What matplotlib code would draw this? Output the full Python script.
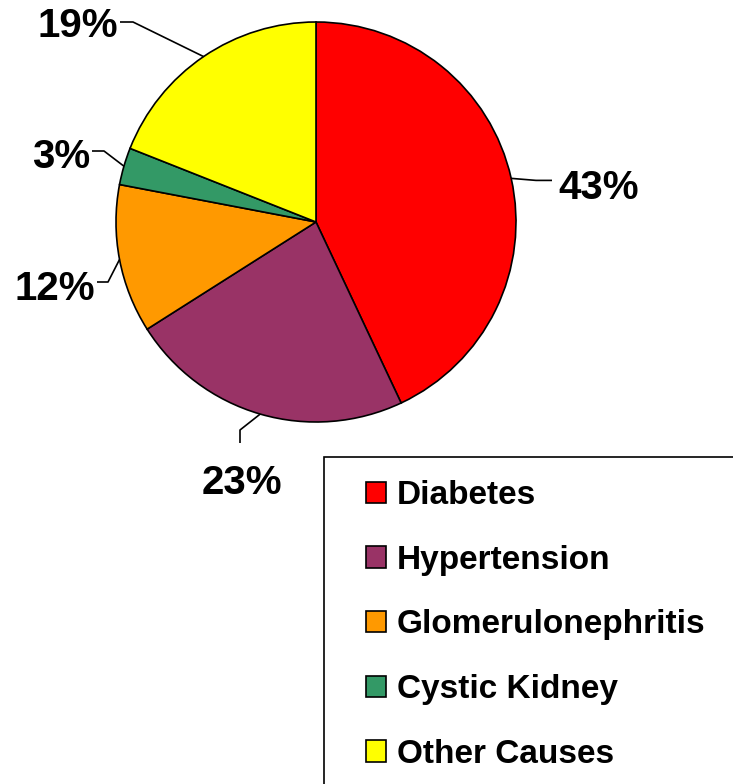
import matplotlib
matplotlib.use("Agg")
import matplotlib.pyplot as plt
from matplotlib.patches import Rectangle
import numpy as np

categories = ["Diabetes", "Hypertension", "Glomerulonephritis", "Cystic Kidney", "Other Causes"]
values = [43, 23, 12, 3, 19]
colors = ["#FF0000", "#993366", "#FF9900", "#339966", "#FFFF00"]

plt.rcParams['font.family'] = ['Liberation Sans', 'DejaVu Sans']
plt.rcParams['font.weight'] = 'bold'

W, H = 733, 784
fig = plt.figure(figsize=(W / 100, H / 100), dpi=100)
cx, cy, R = 316, 222, 200
ax = fig.add_axes([(cx - R) / W, (H - cy - R) / H, 2 * R / W, 2 * R / H])

wedges, _ = ax.pie(values, colors=colors, startangle=90, counterclock=False,
                   radius=1, frame=True,
                   wedgeprops=dict(edgecolor='black', linewidth=1.2))
ax.set_xlim(-1, 1)
ax.set_ylim(-1, 1)
ax.axis('off')

# label layout: (elbow point, end point, text position, ha, va)
layout = [
    ((1.10, 0.208), (1.18, 0.208), (1.21, 0.17), 'left', 'center'),
    ((-0.38, -1.04), (-0.38, -1.105), (-0.37, -1.305), 'center', 'center'),
    ((-1.04, -0.30), (-1.095, -0.30), (-1.105, -0.335), 'right', 'center'),
    ((-1.06, 0.355), (-1.12, 0.355), (-1.13, 0.325), 'right', 'center'),
    ((-0.915, 1.0), (-0.98, 1.0), (-0.99, 0.98), 'right', 'center'),
]
for w, v, (elb, end, tp, ha, va) in zip(wedges, values, layout):
    mid = np.deg2rad((w.theta1 + w.theta2) / 2)
    ex, ey = np.cos(mid), np.sin(mid)
    ax.plot([ex, elb[0], end[0]], [ey, elb[1], end[1]], color='black', lw=1.2,
            clip_on=False, solid_capstyle='butt')
    ax.text(tp[0], tp[1], f"{v}%", ha=ha, va=va, fontsize=29, fontweight='bold',
            clip_on=False)

# legend frame
fig.add_artist(Rectangle((324 / W, (H - 800) / H), (760 - 324) / W, (800 - 457) / H,
                         transform=fig.transFigure, fill=False, edgecolor='black',
                         lw=1.2, clip_on=False))
leg = fig.legend(wedges, categories, loc='upper left',
                 bbox_to_anchor=(366 / W, (H - 480) / H),
                 frameon=False, borderpad=0, borderaxespad=0,
                 handlelength=0.6, handleheight=0.6, handletextpad=0.33,
                 labelspacing=1.01, prop=dict(weight='bold', size=24))

fig.savefig("out.png", dpi=100)
